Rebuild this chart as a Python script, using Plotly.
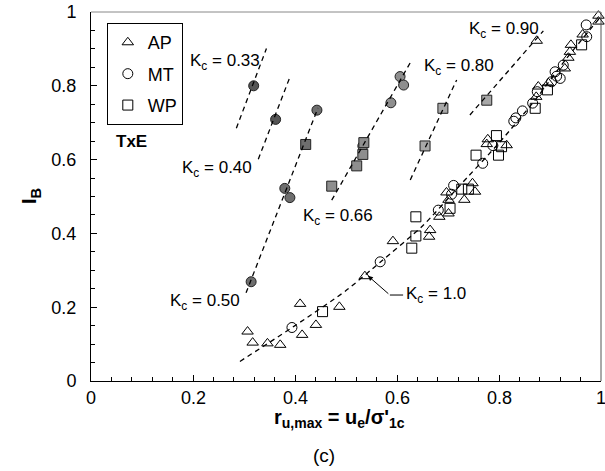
import plotly.graph_objects as go

# ---- open symbols (legend series) ----
ap_x = [0.307, 0.317, 0.346, 0.371, 0.410, 0.414, 0.441, 0.487, 0.537,
        0.592, 0.663, 0.665, 0.683, 0.701, 0.697, 0.701, 0.732, 0.748, 0.753,
        0.776, 0.778, 0.815, 0.873, 0.877, 0.897, 0.929, 0.936, 0.939, 0.941,
        0.964, 0.995, 0.995, 0.874]
ap_y = [0.134, 0.104, 0.102, 0.098, 0.209, 0.125, 0.152, 0.201, 0.284,
        0.379, 0.391, 0.409, 0.445, 0.454, 0.511, 0.491, 0.491, 0.536, 0.513,
        0.642, 0.655, 0.639, 0.770, 0.798, 0.807, 0.847, 0.876, 0.892, 0.911,
        0.939, 0.990, 0.974, 0.922]

mt_x = [0.394, 0.567, 0.681, 0.707, 0.711, 0.768, 0.788, 0.829, 0.833, 0.846,
        0.866, 0.875, 0.903, 0.920, 0.913, 0.910, 0.926, 0.972, 0.971]
mt_y = [0.145, 0.323, 0.463, 0.506, 0.530, 0.590, 0.638, 0.704, 0.713, 0.732,
        0.753, 0.784, 0.811, 0.820, 0.826, 0.838, 0.856, 0.933, 0.965]

wp_x = [0.454, 0.629, 0.637, 0.637, 0.704, 0.727, 0.740, 0.755, 0.799, 0.795,
        0.805, 0.871, 0.895, 0.962]
wp_y = [0.188, 0.360, 0.393, 0.445, 0.468, 0.520, 0.520, 0.612, 0.612, 0.665,
        0.635, 0.739, 0.789, 0.911]

# ---- filled symbols (K_c < 1 tests) ----
mt_fill_kc = [0.33, 0.40, 0.50, 0.50, 0.50, 0.50, 0.66, 0.66, 0.66, 0.66]
mt_fill_x = [0.319, 0.362, 0.314, 0.380, 0.390, 0.443, 0.533, 0.588, 0.606, 0.613]
mt_fill_y = [0.800, 0.709, 0.269, 0.522, 0.497, 0.734, 0.637, 0.754, 0.825, 0.802]

wp_fill_kc = [0.50, 0.66, 0.66, 0.66, 0.66, 0.80, 0.80, 0.90]
wp_fill_x = [0.421, 0.472, 0.521, 0.533, 0.535, 0.655, 0.690, 0.776]
wp_fill_y = [0.641, 0.528, 0.583, 0.614, 0.646, 0.637, 0.739, 0.761]

# ---- K_c trend lines ----
kc_names = ["0.33", "0.40", "0.50", "0.66", "0.80", "0.90", "1.0"]
kc_line_x = [[0.285, 0.344], [0.328, 0.389], [0.304, 0.445], [0.472, 0.629],
             [0.626, 0.717], [0.743, 0.887],
             [0.292, 0.40, 0.50, 0.567, 0.65, 0.72, 0.80, 0.87, 0.93, 0.998]]
kc_line_y = [[0.685, 0.901], [0.601, 0.820], [0.239, 0.740], [0.490, 0.870],
             [0.545, 0.816], [0.721, 0.949],
             [0.053, 0.150, 0.245, 0.322, 0.420, 0.525, 0.645, 0.760, 0.870, 0.985]]

tick_vals = [0, 0.2, 0.4, 0.6, 0.8, 1]
tick_text = ["0", "0.2", "0.4", "0.6", "0.8", "1"]
x_minor_vals = [0.04, 0.08, 0.12, 0.16, 0.24, 0.28, 0.32, 0.36, 0.44, 0.48, 0.52,
                0.56, 0.64, 0.68, 0.72, 0.76, 0.84, 0.88, 0.92, 0.96]
y_minor_vals = [0.05, 0.1, 0.15, 0.25, 0.3, 0.35, 0.45, 0.5, 0.55, 0.65, 0.7,
                0.75, 0.85, 0.9, 0.95]

FONT = "Liberation Sans, Arial, sans-serif"
PAD = "\u00a0\u00a0"  # keeps y tick labels clear of the axis


def fill_color(kc):
    if kc <= 0.40:
        return "#555555"
    if kc <= 0.50:
        return "#6e6e6e"
    if kc <= 0.66:
        return "#8e8e8e"
    return "#a8a8a8"


fig = go.Figure()

open_style = dict(color="rgba(0,0,0,0)", size=10, line=dict(color="black", width=1))
fig.add_trace(go.Scatter(x=ap_x, y=ap_y, mode="markers", name="AP", cliponaxis=False,
                         marker=dict(symbol="triangle-up", **open_style), legendgroup="ap"))
fig.add_trace(go.Scatter(x=mt_x, y=mt_y, mode="markers", name="MT", cliponaxis=False,
                         marker=dict(symbol="circle", **open_style), legendgroup="mt"))
fig.add_trace(go.Scatter(x=wp_x, y=wp_y, mode="markers", name="WP", cliponaxis=False,
                         marker=dict(symbol="square", **open_style), legendgroup="wp"))

fig.add_trace(go.Scatter(x=mt_fill_x, y=mt_fill_y, mode="markers", showlegend=False,
                         marker=dict(symbol="circle", size=10,
                                     color=[fill_color(k) for k in mt_fill_kc],
                                     line=dict(color="#222222", width=1))))
fig.add_trace(go.Scatter(x=wp_fill_x, y=wp_fill_y, mode="markers", showlegend=False,
                         marker=dict(symbol="square", size=10,
                                     color=[fill_color(k) for k in wp_fill_kc],
                                     line=dict(color="#222222", width=1))))

for lx, ly in zip(kc_line_x, kc_line_y):
    fig.add_trace(go.Scatter(x=lx, y=ly, mode="lines", showlegend=False,
                             line=dict(color="black", width=1.3, dash="5px,4px",
                                       shape="spline", smoothing=0.6)))

# K_c labels
kc_label_pos = {"0.33": (0.262, 0.864), "0.40": (0.248, 0.575), "0.50": (0.224, 0.214),
                "0.66": (0.484, 0.444), "0.80": (0.7225, 0.851), "0.90": (0.809, 0.951)}
for name, (lx, ly) in kc_label_pos.items():
    fig.add_annotation(x=lx, y=ly, text="K<sub>c</sub> = " + name, showarrow=False,
                       font=dict(family=FONT, size=17, color="black"))

# K_c = 1.0 label with bent leader
fig.add_annotation(x=0.614, y=0.233, xanchor="left", text="K<sub>c</sub> = 1.0",
                   showarrow=False, font=dict(family=FONT, size=17, color="black"))
fig.add_shape(type="line", x0=0.586, y0=0.233, x1=0.612, y1=0.233,
              line=dict(color="black", width=1))
fig.add_annotation(x=0.543, y=0.285, ax=0.586, ay=0.233, axref="x", ayref="y",
                   text="", showarrow=True, arrowhead=2, arrowsize=1, arrowwidth=1,
                   arrowcolor="black")

fig.add_annotation(x=0.080, y=0.648, text="<b>TxE</b>", showarrow=False,
                   font=dict(family=FONT, size=17, color="black"))

# x tick labels, placed on the x scale just under the axis
for tv, tt in zip(tick_vals, tick_text):
    fig.add_annotation(x=tv, xref="x", y=-0.046, yref="paper", text=tt,
                       xanchor="center", yanchor="middle", showarrow=False,
                       font=dict(family=FONT, size=18, color="black"))

# axis titles and panel tag
fig.add_annotation(xref="paper", yref="paper", x=0.488, y=-0.102,
                   xanchor="center", yanchor="middle",
                   text="<b>r<sub>u,max</sub> = u<sub>e</sub>/σ'<sub>1c</sub></b>",
                   showarrow=False, font=dict(family=FONT, size=20, color="black"))
fig.add_annotation(xref="paper", yref="paper", x=0.456, y=-0.203,
                   xanchor="center", yanchor="middle",
                   text="(c)", showarrow=False,
                   font=dict(family=FONT, size=19, color="black"))
fig.add_annotation(xref="paper", yref="paper", x=-0.12, y=0.50, textangle=-90,
                   xanchor="center", yanchor="middle",
                   text="<b>I<sub>B</sub></b>", showarrow=False,
                   font=dict(family=FONT, size=21, color="black"))

# frame: top and right edges
fig.add_shape(type="line", xref="paper", yref="paper", x0=0, x1=1, y0=1, y1=1,
              line=dict(color="#888888", width=1))
fig.add_shape(type="line", xref="paper", yref="paper", x0=1, x1=1, y0=0, y1=1,
              line=dict(color="#555555", width=1))

axis_common = dict(showgrid=False, zeroline=False, showline=True,
                   linecolor="black", linewidth=1, ticks="inside", ticklen=6,
                   tickcolor="black", tickmode="array", tickvals=tick_vals,
                   automargin=False,
                   tickfont=dict(family=FONT, size=18, color="black"))
fig.update_xaxes(**axis_common, range=[0, 1], showticklabels=False,
                 minor=dict(tickmode="array", tickvals=x_minor_vals, ticks="inside",
                            ticklen=4, tickcolor="black"))
fig.update_yaxes(**axis_common, range=[0, 1], ticktext=[t + PAD for t in tick_text],
                 ticklabeloverflow="allow",
                 minor=dict(tickmode="array", tickvals=y_minor_vals, ticks="inside",
                            ticklen=4, tickcolor="black"))

fig.update_layout(
    width=605, height=471,
    margin=dict(l=91, r=4, t=12, b=90),
    paper_bgcolor="white", plot_bgcolor="white",
    font=dict(family=FONT, color="black"),
    legend=dict(x=0.031, y=0.970, xanchor="left", yanchor="top",
                bordercolor="black", borderwidth=1, bgcolor="white",
                font=dict(family=FONT, size=18, color="black"),
                itemwidth=30, tracegroupgap=5),
)

fig.write_html("out.html")
